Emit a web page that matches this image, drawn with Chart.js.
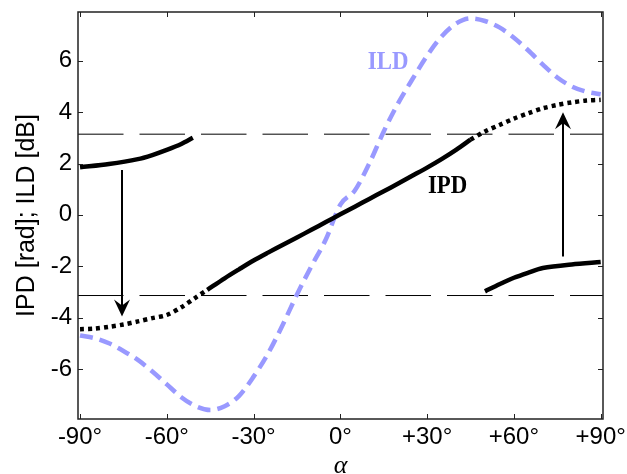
<!DOCTYPE html>
<html>
<head>
<meta charset="utf-8">
<script src="https://cdn.jsdelivr.net/npm/chart.js@4.4.1/dist/chart.umd.min.js"></script>
<style>
  html, body { margin: 0; padding: 0; background: #fff; }
  #wrap { width: 627px; height: 474px; }
</style>
</head>
<body>
<div id="wrap"><canvas id="chart" width="627" height="474"></canvas></div>
<script>
// ILD curve (dB) against azimuth alpha (deg)
const ildAngles = [-90,-85,-80,-75,-70,-65,-60,-55,-50,-45,-40,-35,-30,-25,-20,-15,-10,-5,0,5,10,15,20,25,30,35,40,45,50,55,60,65,70,75,80,85,90];
const ildValues = [-4.7,-4.8,-5.0,-5.3,-5.65,-6.1,-6.6,-7.1,-7.45,-7.6,-7.45,-7.05,-6.3,-5.4,-4.3,-3.1,-2.0,-0.95,0.4,0.95,2.0,3.25,4.35,5.3,6.2,6.95,7.45,7.65,7.55,7.3,6.9,6.4,5.85,5.35,5.0,4.8,4.7];

// IPD (rad), unwrapped middle part (solid)
const ipdMidAngles = [-46,-40,-35,-30,-25,-20,-15,-10,-5,0,5,10,15,20,25,30,35,40,45];
const ipdMidValues = [-2.92,-2.47,-2.12,-1.78,-1.47,-1.17,-0.88,-0.58,-0.28,0.02,0.32,0.62,0.92,1.22,1.53,1.84,2.17,2.53,2.93];

// IPD unwrapped beyond +-pi (dotted)
const ipdLeftAngles = [-90,-85,-80,-75,-70,-65,-60,-55,-50,-46];
const ipdLeftValues = [-4.45,-4.43,-4.36,-4.27,-4.15,-4.02,-3.9,-3.6,-3.22,-2.92];
const ipdRightAngles = [45,50,55,60,65,70,75,80,85,90];
const ipdRightValues = [2.93,3.25,3.5,3.75,3.96,4.15,4.28,4.38,4.45,4.48];

// IPD wrapped into [-pi, pi] (solid)
const wrapLeftAngles = [-90,-80,-70,-65,-60,-55,-51];
const wrapLeftValues = [1.85,1.98,2.17,2.33,2.53,2.76,3.0];
const wrapRightAngles = [50,55,60,65,70,80,90];
const wrapRightValues = [-2.98,-2.7,-2.45,-2.25,-2.07,-1.93,-1.84];

// +-pi reference levels
const piLevels = [3.1416, -3.1416];

// arrows (deg, from -> to)
const arrowAngles = [-75.6, 77.0];
const arrowFrom = [1.75, -1.62];
const arrowTo = [-3.96, 4.0];

// curve labels
const labelTexts = ['ILD', 'IPD'];
const labelAngles = [16.5, 37.1];
const labelValues = [5.93, 1.13];
const labelColors = ['#9999ff', '#000000'];

// axes
const xMin = -90.7, xMax = 90.8;
const yMin = -7.95, yMax = 7.9;
const xTickValues = [-90,-60,-30,0,30,60,90];
const xTickLabels = ['-90°','-60°','-30°','0°','+30°','+60°','+90°'];
const yTickValues = [-6,-4,-2,0,2,4,6];
const yTickLabels = ['-6','-4','-2','0','2','4','6'];

const ILD_COLOR = '#9999ff';

function pts(xs, ys) { return xs.map((v, i) => ({ x: v, y: ys[i] })); }

const decor = {
  id: 'decor',
  afterDatasetsDraw(chart) {
    const { ctx, scales: { x, y } } = chart;
    ctx.save();
    // arrows
    ctx.strokeStyle = '#000';
    ctx.fillStyle = '#000';
    ctx.lineWidth = 2;
    arrowAngles.forEach((a, i) => {
      const px = Math.round(x.getPixelForValue(a));
      const y0 = y.getPixelForValue(arrowFrom[i]);
      const y1 = y.getPixelForValue(arrowTo[i]);
      const dir = Math.sign(y1 - y0);
      ctx.beginPath();
      ctx.moveTo(px, y0);
      ctx.lineTo(px, y1 - dir * 10);
      ctx.stroke();
      ctx.beginPath();
      ctx.moveTo(px, y1);
      ctx.lineTo(px - 8, y1 - dir * 17);
      ctx.lineTo(px, y1 - dir * 11);
      ctx.lineTo(px + 8, y1 - dir * 17);
      ctx.closePath();
      ctx.fill();
    });
    // labels
    ctx.textAlign = 'center';
    ctx.textBaseline = 'middle';
    ctx.font = 'bold 26px "Liberation Serif", "Times New Roman", serif';
    labelTexts.forEach((t, i) => {
      const px = x.getPixelForValue(labelAngles[i]);
      const py = y.getPixelForValue(labelValues[i]);
      ctx.save();
      ctx.translate(px, py);
      ctx.scale(0.88, 1);
      ctx.fillStyle = labelColors[i];
      ctx.fillText(t, 0, 0);
      ctx.restore();
    });
    ctx.restore();
  },
  afterDraw(chart) {
    const { ctx, chartArea: a, scales: { x, y } } = chart;
    ctx.save();
    ctx.strokeStyle = '#222';
    ctx.lineWidth = 1;
    ctx.beginPath();
    xTickValues.forEach(v => {
      const px = Math.round(x.getPixelForValue(v)) + 0.5;
      ctx.moveTo(px, a.bottom); ctx.lineTo(px, a.bottom - 5);
      ctx.moveTo(px, a.top); ctx.lineTo(px, a.top + 5);
    });
    yTickValues.forEach(v => {
      const py = Math.round(y.getPixelForValue(v)) + 0.5;
      ctx.moveTo(a.left, py); ctx.lineTo(a.left + 5, py);
      ctx.moveTo(a.right, py); ctx.lineTo(a.right - 5, py);
    });
    ctx.stroke();
    ctx.lineWidth = 1.5;
    ctx.strokeStyle = '#222';
    ctx.strokeRect(a.left, a.top, a.right - a.left, a.bottom - a.top);
    ctx.restore();
  }
};

Chart.defaults.font.family = '"Liberation Sans", Arial, sans-serif';
Chart.defaults.color = '#000';

const solid = { borderColor: '#000', borderWidth: 4.5, pointRadius: 0, tension: 0.3, fill: false };
const dotted = { borderColor: '#000', borderWidth: 4.5, borderDash: [4, 4], pointRadius: 0, tension: 0.3, fill: false };

new Chart(document.getElementById('chart'), {
  type: 'line',
  data: {
    datasets: [
      Object.assign({ label: 'IPD', data: pts(ipdMidAngles, ipdMidValues) }, solid),
      Object.assign({ label: 'IPD wrapped left', data: pts(wrapLeftAngles, wrapLeftValues) }, solid),
      Object.assign({ label: 'IPD wrapped right', data: pts(wrapRightAngles, wrapRightValues) }, solid),
      Object.assign({ label: 'IPD unwrapped left', data: pts(ipdLeftAngles, ipdLeftValues) }, dotted),
      Object.assign({ label: 'IPD unwrapped right', data: pts(ipdRightAngles, ipdRightValues) }, dotted),
      { label: 'ILD', data: pts(ildAngles, ildValues), borderColor: ILD_COLOR, borderWidth: 4.5,
        borderDash: [13, 7], pointRadius: 0, cubicInterpolationMode: 'monotone', fill: false },
      ...piLevels.map(p => ({ label: 'pi', data: [{ x: xMin, y: p }, { x: xMax, y: p }],
        borderColor: '#000', borderWidth: 1, borderDash: [45.5, 16], pointRadius: 0, fill: false }))
    ]
  },
  options: {
    responsive: false,
    animation: false,
    devicePixelRatio: 1,
    layout: { padding: { left: 0, top: 12, right: 24, bottom: 0 } },
    plugins: { legend: { display: false }, tooltip: { enabled: false } },
    scales: {
      x: {
        type: 'linear', min: xMin, max: xMax,
        grid: { display: false, drawTicks: false },
        border: { display: false },
        afterBuildTicks: s => { s.ticks = xTickValues.map(v => ({ value: v })); },
        afterFit: s => { s.height = 55; s.paddingLeft = 0; s.paddingRight = 0; },
        ticks: { font: { size: 24 }, padding: 4, autoSkip: false, maxRotation: 0,
          callback: (v, i) => xTickLabels[i] },
        title: { display: true, text: 'α', padding: 0,
          font: { family: '"Liberation Serif", "Times New Roman", serif', style: 'italic', size: 26, lineHeight: 0.62 } }
      },
      y: {
        type: 'linear', min: yMin, max: yMax,
        grid: { display: false, drawTicks: false },
        border: { display: false },
        afterBuildTicks: s => { s.ticks = yTickValues.map(v => ({ value: v })); },
        afterFit: s => { s.width = 78; s.paddingTop = 0; s.paddingBottom = 0; },
        ticks: { font: { size: 24 }, padding: 6, autoSkip: false,
          callback: (v, i) => yTickLabels[i] },
        title: { display: true, text: 'IPD [rad]; ILD [dB]', padding: { top: 12.5, bottom: 0 },
          font: { size: 25, lineHeight: 1.2 } }
      }
    }
  },
  plugins: [decor]
});
</script>
</body>
</html>
